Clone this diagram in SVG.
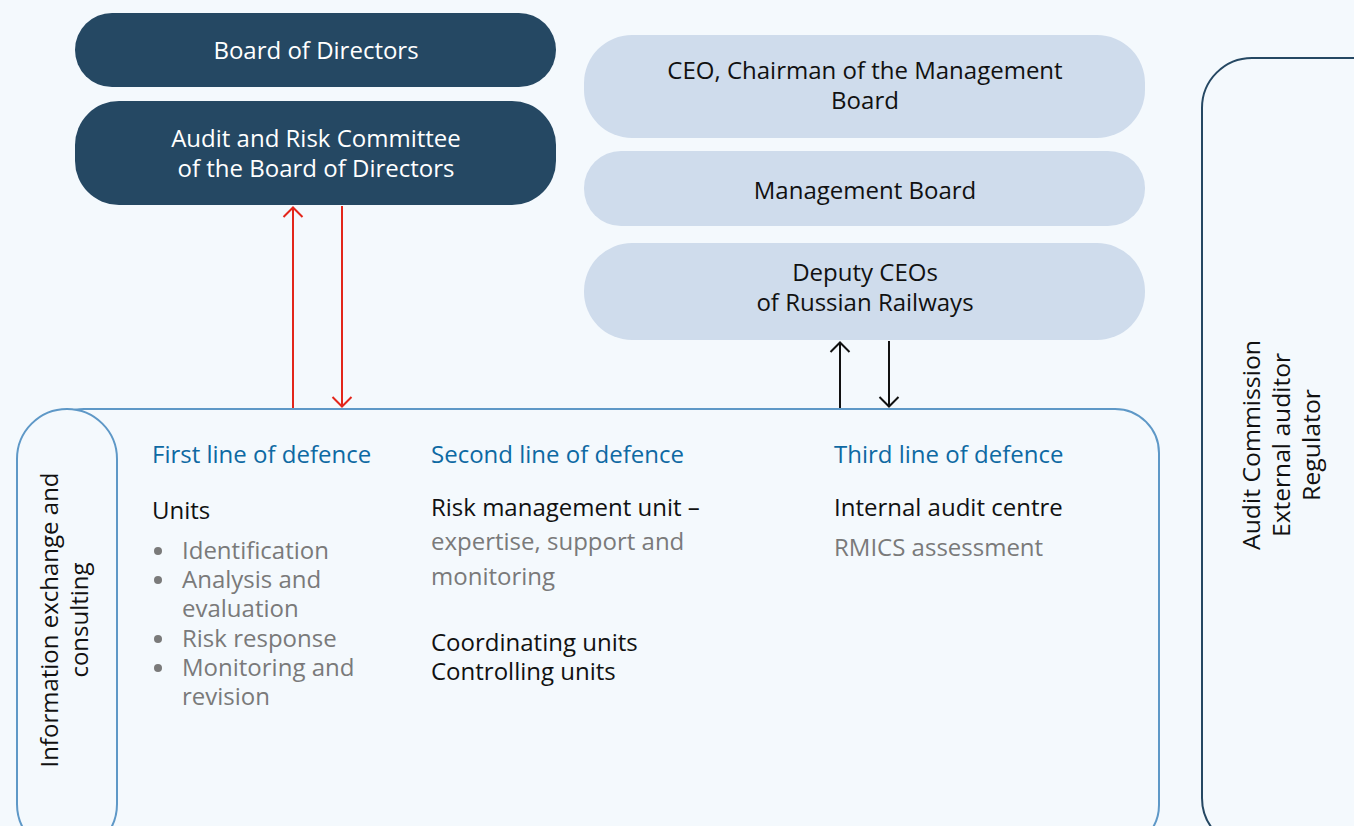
<svg xmlns="http://www.w3.org/2000/svg" width="1354" height="826" viewBox="0 0 1354 826">
<defs>
<style>
.t{font-family:"Open Sans","Liberation Sans",sans-serif;font-size:24px}
.w{fill:#ffffff}
.k{fill:#111111}
.g{fill:#7a7a7a}
.b{fill:#0e69a3}
.c{text-anchor:middle}
.dark{fill:#254863}
.light{fill:#cfdcec}
.blue{fill:#f4f9fd;stroke:#5e98c7;stroke-width:2}
.red{stroke:#e3261b;stroke-width:2;fill:none}
.blk{stroke:#111111;stroke-width:2;fill:none}
</style>
<marker id="ar" viewBox="0 0 12 22" refX="11" refY="11" markerWidth="12" markerHeight="22" markerUnits="userSpaceOnUse" orient="auto">
<path d="M1,1.5 L10.5,11 L1,20.5" fill="none" stroke="#e3261b" stroke-width="2"/>
</marker>
<marker id="ak" viewBox="0 0 12 22" refX="11" refY="11" markerWidth="12" markerHeight="22" markerUnits="userSpaceOnUse" orient="auto">
<path d="M1,1.5 L10.5,11 L1,20.5" fill="none" stroke="#111111" stroke-width="2"/>
</marker>
</defs>
<rect width="1354" height="826" fill="#f4f9fd"/>

<g id="board">
<rect x="75" y="13" width="481" height="74" rx="37" class="dark"/>
<text x="316" y="59" class="t w c">Board of Directors</text>
</g>
<g id="audit-risk-committee">
<rect x="75" y="101" width="481" height="104" rx="44" class="dark"/>
<text class="t w c"><tspan x="316" y="147">Audit and Risk Committee</tspan><tspan x="316" y="177">of the Board of Directors</tspan></text>
</g>
<g id="ceo">
<rect x="584" y="35" width="561" height="103" rx="48" class="light"/>
<text class="t k c"><tspan x="865" y="79">CEO, Chairman of the Management</tspan><tspan x="865" y="109">Board</tspan></text>
</g>
<g id="management-board">
<rect x="584" y="151" width="561" height="75" rx="37" class="light"/>
<text x="865" y="199" class="t k c">Management Board</text>
</g>
<g id="deputy-ceos">
<rect x="584" y="243" width="561" height="97" rx="48" class="light"/>
<text class="t k c"><tspan x="865" y="281">Deputy CEOs</tspan><tspan x="865" y="311">of Russian Railways</tspan></text>
</g>

<g id="lines-of-defence">
<rect x="40" y="409" width="1119" height="440" rx="44" class="blue"/>
<text x="152" y="463" class="t b">First line of defence</text>
<text x="152" y="519" class="t k">Units</text>
<g class="g">
<circle cx="158" cy="551" r="4"/>
<circle cx="158" cy="580" r="4"/>
<circle cx="158" cy="639" r="4"/>
<circle cx="158" cy="668" r="4"/>
</g>
<text class="t g"><tspan x="182" y="559">Identification</tspan><tspan x="182" y="588">Analysis and</tspan><tspan x="182" y="617">evaluation</tspan><tspan x="182" y="647">Risk response</tspan><tspan x="182" y="676">Monitoring and</tspan><tspan x="182" y="705">revision</tspan></text>

<text x="431" y="463" class="t b">Second line of defence</text>
<text x="431" y="516" class="t k">Risk management unit –</text>
<text class="t g"><tspan x="431" y="550">expertise, support and</tspan><tspan x="431" y="585">monitoring</tspan></text>
<text class="t k"><tspan x="431" y="651">Coordinating units</tspan><tspan x="431" y="680">Controlling units</tspan></text>

<text x="834" y="463" class="t b">Third line of defence</text>
<text x="834" y="516" class="t k">Internal audit centre</text>
<text x="834" y="556" class="t g">RMICS assessment</text>
</g>

<g id="info-exchange">
<rect x="17" y="409" width="100" height="445" rx="50" class="blue"/>
<text transform="translate(58,620) rotate(-90)" class="t k c">Information exchange and</text>
<text transform="translate(88,620) rotate(-90)" class="t k c">consulting</text>
</g>

<g id="external">
<rect x="1202" y="58" width="200" height="790" rx="50" fill="none" stroke="#254863" stroke-width="2"/>
<text transform="translate(1260,445) rotate(-90)" class="t k c" textLength="210" lengthAdjust="spacingAndGlyphs">Audit Commission</text>
<text transform="translate(1290,445) rotate(-90)" class="t k c" textLength="184" lengthAdjust="spacingAndGlyphs">External auditor</text>
<text transform="translate(1320,445) rotate(-90)" class="t k c" textLength="112" lengthAdjust="spacingAndGlyphs">Regulator</text>
</g>

<g id="connectors">
<line x1="293" y1="408" x2="293" y2="207" class="red" marker-end="url(#ar)"/>
<line x1="342" y1="206" x2="342" y2="407" class="red" marker-end="url(#ar)"/>
<line x1="840" y1="408" x2="840" y2="342" class="blk" marker-end="url(#ak)"/>
<line x1="889" y1="341" x2="889" y2="407" class="blk" marker-end="url(#ak)"/>
</g>
</svg>
